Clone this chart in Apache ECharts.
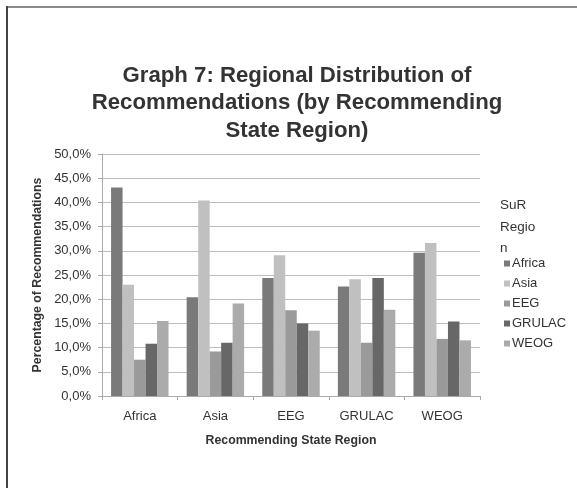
<!DOCTYPE html>
<html><head><meta charset="utf-8">
<script src="https://cdn.jsdelivr.net/npm/echarts@6/dist/echarts.min.js"></script>
<style>html,body{margin:0;padding:0;background:#fff}#c{width:577px;height:488px}</style>
</head><body><div id="c"></div>
<script>
const categories = ['Africa','Asia','EEG','GRULAC','WEOG'];
const seriesNames = ['Africa','Asia','EEG','GRULAC','WEOG'];
const africa = [43.1, 20.4, 24.4, 22.6, 29.6];
const asia   = [23.0, 40.4, 29.1, 24.1, 31.6];
const eeg    = [7.5, 9.2, 17.7, 11.0, 11.8];
const grulac = [10.8, 11.0, 15.0, 24.4, 15.4];
const weog   = [15.5, 19.1, 13.5, 17.8, 11.5];
const colors = ['#7a7a7a','#c0c0c0','#9a9a9a','#676767','#ababab'];
const values = [africa, asia, eeg, grulac, weog];

const chart = echarts.init(document.getElementById('c'));
const font = 'Liberation Sans, Arial, sans-serif';
chart.setOption({
  animation: false,
  textStyle: {fontFamily: font},
  title: {
    text: 'Graph 7: Regional Distribution of\nRecommendations (by Recommending\nState Region)',
    left: 292, top: 57, textAlign: 'center',
    textStyle: {fontSize: 22.2, fontWeight: 'bold', color: '#333', lineHeight: 27.5, fontFamily: font}
  },
  legend: {
    orient: 'vertical', left: 499, top: 252, itemWidth: 6, itemHeight: 6, itemGap: 7,
    icon: 'rect',
    data: seriesNames,
    textStyle: {fontSize: 13, color: '#333', padding: [0,0,0,-3], fontFamily: font}
  },
  graphic: [
    {type:'text', left: 500, top: 195, style:{text:'SuR\nRegio\nn', fontSize: 13.5, lineHeight: 21.5, fill:'#333', fontFamily: font}},
    {type:'rect', shape:{x:6,y:6,width:571,height:2}, style:{fill:'#8a8a8a'}},
    {type:'rect', shape:{x:6,y:6,width:2,height:482}, style:{fill:'#444'}}
  ],
  grid: {left: 102, right: 97, top: 154, bottom: 92},
  xAxis: {
    type: 'category', data: categories,
    name: 'Recommending State Region', nameLocation: 'middle', nameGap: 39,
    nameTextStyle: {fontSize: 12.3, fontWeight: 'bold', color: '#333'},
    axisLine: {lineStyle: {color: '#aaa'}},
    axisTick: {show: true, length: 4, lineStyle: {color: '#aaa'}},
    axisLabel: {fontSize: 13, color: '#333', margin: 14}
  },
  yAxis: {
    type: 'value', min: 0, max: 50, interval: 5,
    name: 'Percentage of Recommendations', nameLocation: 'middle', nameGap: 57,
    nameTextStyle: {fontSize: 12.3, fontWeight: 'bold', color: '#333'},
    axisLine: {show: true, lineStyle: {color: '#aaa'}},
    axisTick: {show: true, length: 4, lineStyle: {color: '#aaa'}},
    axisLabel: {fontSize: 13, color: '#333', margin: 11, formatter: v => v.toFixed(1).replace('.', ',') + '%'},
    splitLine: {lineStyle: {color: '#bdbdbd'}}
  },
  series: seriesNames.map((n, i) => ({
    name: n, type: 'bar', data: values[i], barGap: '0%', barCategoryGap: '24%',
    itemStyle: {color: colors[i]}
  }))
});
</script></body></html>
